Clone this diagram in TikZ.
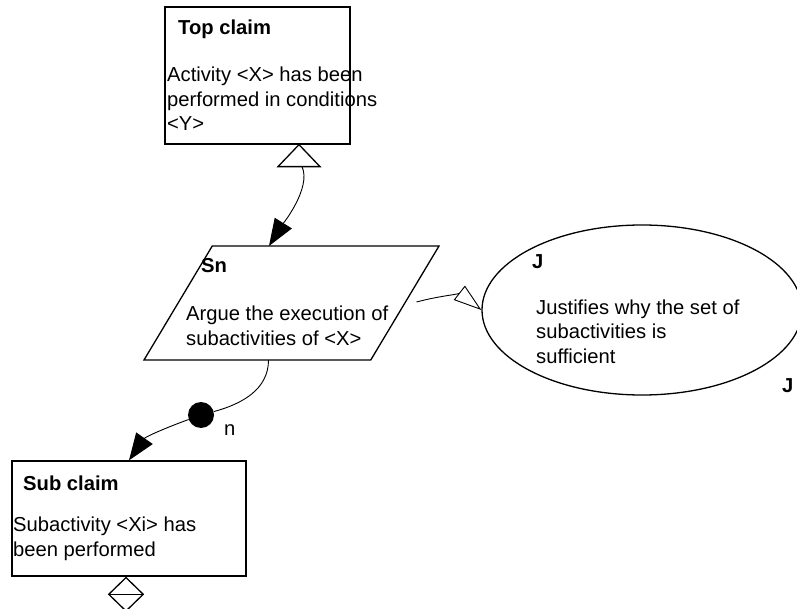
\documentclass[tikz,border=0pt]{standalone}
\usepackage{fontspec}
\setmainfont{Liberation Sans}
\usetikzlibrary{shapes.geometric}
\usetikzlibrary{arrows.meta}
\usetikzlibrary{calc}

\tikzset{
  claim/.style={draw, line width=1.3pt, rectangle, inner sep=0pt},
  ttl/.style={anchor=base west, inner sep=0pt, font=\fontsize{20.2}{24.5}\selectfont\bfseries},
  txt/.style={anchor=base west, inner sep=0pt, align=left, font=\fontsize{20.2}{24.5}\selectfont},
  link/.style={line width=0.9pt},
  solidtip/.style={-{Triangle[length=27pt,width=20pt]}},
  opentip/.style={-{Triangle[open,length=28pt,width=18pt]}},
}

\begin{document}
\begin{tikzpicture}[x=1pt,y=1pt]
\useasboundingbox (0,0) rectangle (797,-609);

\node [claim, minimum width=185pt, minimum height=137pt] (top) at (257.5,-75.5) {};
\node [ttl] (topttl) at (178,-35) {Top claim};
\node [txt] (toptxt) at (167,-131) {Activity <X> has been\\performed in conditions\\<Y>};

\node [trapezium, trapezium left angle=66.7, trapezium right angle=113.3, trapezium stretches=true,
  draw, line width=1.3pt, minimum width=295pt, minimum height=114pt, inner sep=2pt] (sn) at (291.5,-303) {};
\node [ttl] (snttl) at (201,-273) {Sn};
\node [txt] (sntxt) at (186,-345) {Argue the execution of\\subactivities of <X>};

\node [ellipse, draw, line width=1.3pt, minimum width=320pt, minimum height=170pt, inner sep=0pt] (just) at (642,-310) {};
\node [ttl] (justttl) at (532,-269) {J};
\node [txt] (justtxt) at (536,-363) {Justifies why the set of\\subactivities is\\sufficient};
\node [ttl] (justid) at (782,-392) {J};

\node [circle, fill, minimum size=26pt, inner sep=0pt] (multi) at (201,-415) {};
\node [txt] (multn) at (224,-435) {n};

\node [claim, minimum width=234pt, minimum height=115pt] (sub) at (129,-518.5) {};
\node [ttl] (subttl) at (23,-490) {Sub claim};
\node [txt] (subtxt) at (13,-556) {Subactivity <Xi> has\\been performed};

% markers
\coordinate (uninst) at ([xshift=41.5pt,yshift=-22pt]top.south);
\draw [line width=1.3pt, fill=white] ([xshift=41.5pt]top.south) -- ([xshift=21pt]uninst) -- ([xshift=-21pt]uninst) -- cycle;
\node [diamond, draw, line width=1.3pt, minimum width=35pt, minimum height=34pt, inner sep=0pt, anchor=north] (undev) at ([xshift=-3pt]sub.south) {};
\draw [line width=1.3pt] (undev.west) -- (undev.east);

% connectors
\draw [link, solidtip] ([xshift=3pt]uninst) to [out=-65, in=58, looseness=0.7] ([shift={(-22.5pt,57pt)}]sn.center);
\draw [link] ([shift={(-23pt,-57pt)}]sn.center) to [out=-90, in=15] (multi);
\draw [link, solidtip] (multi) to [out=200, in=55] (sub.north);
\draw [link, opentip] ([shift={(125pt,1pt)}]sn.center) to [out=15, in=142] (just.west);
\end{tikzpicture}
\end{document}
